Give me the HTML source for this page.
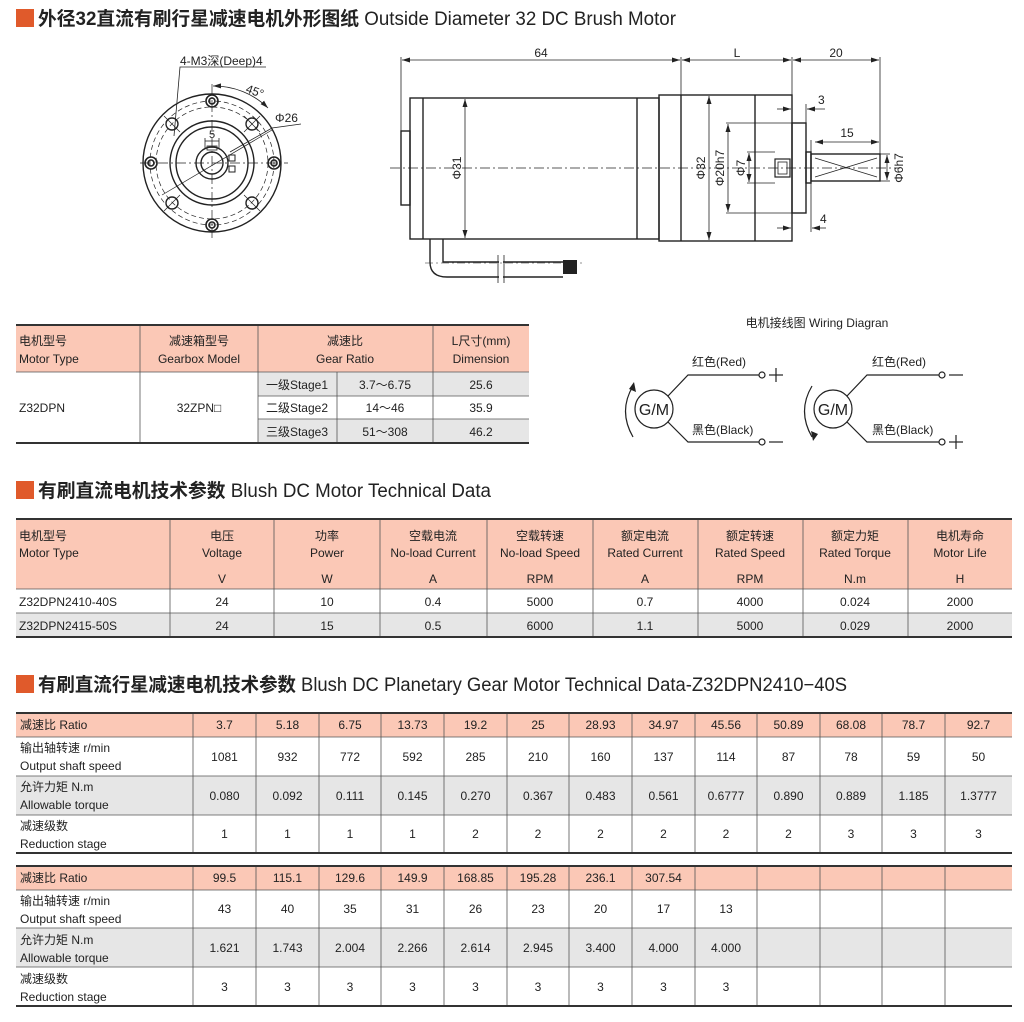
<!DOCTYPE html>
<html><head><meta charset="utf-8"><style>
html,body{margin:0;padding:0;background:#fff;}
svg{display:block;font-family:"Liberation Sans","Noto Sans CJK SC",sans-serif;}
</style></head><body>
<svg width="1024" height="1022" viewBox="0 0 1024 1022" xmlns="http://www.w3.org/2000/svg">
<defs>
<marker id="ar" markerWidth="8" markerHeight="6" refX="8" refY="3" orient="auto-start-reverse" markerUnits="userSpaceOnUse"><path d="M0,0.5 L8,3 L0,5.5 z" fill="#222"/></marker>
</defs>
<!-- Titles -->
<rect x="16" y="9" width="18" height="18" fill="#e05a2b"/>
<text x="38" y="25" font-size="19" font-weight="bold" fill="#222" textLength="638" lengthAdjust="spacingAndGlyphs">外径32直流有刷行星减速电机外形图纸 <tspan font-weight="normal">Outside Diameter 32 DC Brush Motor</tspan></text>
<rect x="16" y="481" width="18" height="18" fill="#e05a2b"/>
<text x="38" y="497" font-size="19" font-weight="bold" fill="#222" textLength="453" lengthAdjust="spacingAndGlyphs">有刷直流电机技术参数 <tspan font-weight="normal">Blush DC Motor Technical Data</tspan></text>
<rect x="16" y="675" width="18" height="18" fill="#e05a2b"/>
<text x="38" y="691" font-size="19" font-weight="bold" fill="#222" textLength="809" lengthAdjust="spacingAndGlyphs">有刷直流行星减速电机技术参数 <tspan font-weight="normal">Blush DC Planetary Gear Motor Technical Data-Z32DPN2410−40S</tspan></text>

<!-- Front view -->
<g stroke="#222" fill="none" stroke-width="1.4">
<line x1="140" y1="163" x2="288" y2="163" stroke-width="0.7" stroke-dasharray="10,3,2,3"/>
<line x1="212" y1="84" x2="212" y2="240" stroke-width="0.7" stroke-dasharray="10,3,2,3"/>
<circle cx="212" cy="163" r="69"/>
<circle cx="212" cy="163" r="62" stroke-width="0.7" stroke-dasharray="5,3"/>
<circle cx="212" cy="163" r="56" stroke-width="0.7" stroke-dasharray="5,3"/>
<circle cx="212" cy="163" r="42"/>
<circle cx="212" cy="163" r="36"/>
<circle cx="212" cy="163" r="16"/>
<circle cx="212" cy="163" r="11"/>
<rect x="207" y="146" width="10" height="4" stroke-width="0.8"/>
<rect x="229" y="155" width="6" height="6" stroke-width="1"/>
<rect x="229" y="166" width="6" height="6" stroke-width="1"/>
<g stroke-width="1.6">
<circle cx="212" cy="101" r="6"/><circle cx="212" cy="101" r="3"/>
<circle cx="212" cy="225" r="6"/><circle cx="212" cy="225" r="3"/>
<circle cx="151" cy="163" r="6"/><circle cx="151" cy="163" r="3"/>
<circle cx="274" cy="163" r="6"/><circle cx="274" cy="163" r="3"/>
</g>
<circle cx="172" cy="124" r="6"/><circle cx="252" cy="124" r="6"/>
<circle cx="172" cy="203" r="6"/><circle cx="252" cy="203" r="6"/>
<line x1="164" y1="116" x2="180" y2="132" stroke-width="0.7"/>
<line x1="244" y1="132" x2="260" y2="116" stroke-width="0.7"/>
<line x1="244" y1="116" x2="260" y2="132" stroke-width="0.7"/>
<line x1="164" y1="211" x2="180" y2="195" stroke-width="0.7"/>
<line x1="244" y1="195" x2="260" y2="211" stroke-width="0.7"/>
<line x1="162" y1="195" x2="272" y2="130" stroke-width="0.7"/>
</g>
<g stroke="#222" stroke-width="0.8" fill="none">
<polyline points="266,67 180,67 174,136"/>
<path d="M213,86 A77,77 0 0 1 268,108" marker-start="url(#ar)" marker-end="url(#ar)"/>
<polyline points="230,152 272,128 301,124"/>
<line x1="205" y1="138" x2="205" y2="149"/><line x1="219" y1="138" x2="219" y2="149"/>
<line x1="205" y1="141" x2="219" y2="141"/>
</g>
<text x="180" y="65" font-size="12" fill="#222">4-M3深(Deep)4</text>
<text x="245" y="92" font-size="12" fill="#222" transform="rotate(20 245 92)">45°</text>
<text x="275" y="122" font-size="12" fill="#222">Φ26</text>
<text x="212" y="138" font-size="11" fill="#222" text-anchor="middle">5</text>

<!-- Side view -->
<g stroke="#222" fill="none" stroke-width="1.4">
<rect x="410" y="98" width="249" height="141"/>
<line x1="423" y1="98" x2="423" y2="239"/>
<line x1="637" y1="98" x2="637" y2="239"/>
<rect x="401" y="131" width="9" height="74"/>
<rect x="659" y="95" width="133" height="146"/>
<line x1="681" y1="95" x2="681" y2="241"/>
<line x1="755" y1="95" x2="755" y2="241"/>
<rect x="792" y="123" width="14" height="90"/>
<rect x="806" y="152" width="5" height="31"/>
<rect x="811" y="154" width="69" height="27"/>
<line x1="815" y1="158" x2="877" y2="177" stroke-width="0.7"/>
<line x1="815" y1="177" x2="877" y2="158" stroke-width="0.7"/>
<rect x="775" y="159" width="15" height="18" stroke-width="1.2"/>
<rect x="778" y="162" width="9" height="12" stroke-width="0.8"/>
<path d="M430,239 V262 Q430,277 447,277 H563"/>
<path d="M443,239 V262 H563"/>
<rect x="563" y="260" width="14" height="14" fill="#222" stroke="none"/>
</g>
<g stroke="#fff" stroke-width="4"><line x1="501" y1="255" x2="501" y2="283"/></g>
<g stroke="#222" stroke-width="0.8"><line x1="498" y1="255" x2="498" y2="283"/><line x1="504" y1="255" x2="504" y2="283"/></g>
<line x1="390" y1="168" x2="900" y2="168" stroke="#222" stroke-width="0.7" stroke-dasharray="10,3,2,3"/>
<line x1="425" y1="263" x2="585" y2="263" stroke="#222" stroke-width="0.6" stroke-dasharray="8,3,2,3"/>
<g stroke="#222" stroke-width="0.8" fill="none">
<line x1="401" y1="57" x2="401" y2="131"/>
<line x1="681" y1="57" x2="681" y2="95"/>
<line x1="792" y1="57" x2="792" y2="123"/>
<line x1="880" y1="57" x2="880" y2="154"/>
<line x1="402" y1="60" x2="680" y2="60" marker-start="url(#ar)" marker-end="url(#ar)"/>
<line x1="682" y1="60" x2="791" y2="60" marker-start="url(#ar)" marker-end="url(#ar)"/>
<line x1="793" y1="60" x2="879" y2="60" marker-start="url(#ar)" marker-end="url(#ar)"/>
<line x1="465" y1="99" x2="465" y2="238" marker-start="url(#ar)" marker-end="url(#ar)"/>
<line x1="709" y1="96" x2="709" y2="240" marker-start="url(#ar)" marker-end="url(#ar)"/>
<line x1="728" y1="124" x2="728" y2="212" marker-start="url(#ar)" marker-end="url(#ar)"/>
<line x1="726" y1="123" x2="792" y2="123"/><line x1="726" y1="213" x2="792" y2="213"/>
<line x1="749" y1="153" x2="749" y2="182" marker-start="url(#ar)" marker-end="url(#ar)"/>
<line x1="747" y1="152" x2="775" y2="152"/><line x1="747" y1="183" x2="775" y2="183"/>
<line x1="887" y1="155" x2="887" y2="180" marker-start="url(#ar)" marker-end="url(#ar)"/>
<line x1="880" y1="154" x2="890" y2="154"/><line x1="880" y1="181" x2="890" y2="181"/>
<line x1="815" y1="142" x2="879" y2="142" marker-start="url(#ar)" marker-end="url(#ar)"/>
<line x1="811" y1="140" x2="811" y2="152"/>
<line x1="777" y1="109" x2="791" y2="109" marker-end="url(#ar)"/>
<line x1="807" y1="109" x2="825" y2="109" marker-start="url(#ar)"/>
<line x1="806" y1="104" x2="806" y2="123"/>
<line x1="777" y1="228" x2="791" y2="228" marker-end="url(#ar)"/>
<line x1="812" y1="228" x2="826" y2="228" marker-start="url(#ar)"/>
<line x1="811" y1="183" x2="811" y2="232"/>
</g>
<g font-size="12" fill="#222">
<text x="541" y="57" text-anchor="middle">64</text>
<text x="737" y="57" text-anchor="middle">L</text>
<text x="836" y="57" text-anchor="middle">20</text>
<text x="847" y="137" text-anchor="middle">15</text>
<text x="818" y="104">3</text>
<text x="820" y="223">4</text>
<text transform="translate(461 168) rotate(-90)" text-anchor="middle">Φ31</text>
<text transform="translate(705 168) rotate(-90)" text-anchor="middle">Φ32</text>
<text transform="translate(724 168) rotate(-90)" text-anchor="middle">Φ20h7</text>
<text transform="translate(745 168) rotate(-90)" text-anchor="middle">Φ7</text>
<text transform="translate(903 168) rotate(-90)" text-anchor="middle">Φ6h7</text>
</g>

<!-- Gearbox table -->
<rect x="16" y="325" width="513" height="47" fill="#fbc8b6"/>
<rect x="258" y="372" width="271" height="24" fill="#e6e6e6"/>
<rect x="258" y="419" width="271" height="24" fill="#e6e6e6"/>
<g stroke="#555" stroke-width="0.8">
<line x1="140" y1="325" x2="140" y2="443"/><line x1="258" y1="325" x2="258" y2="443"/>
<line x1="337" y1="372" x2="337" y2="443"/><line x1="433" y1="325" x2="433" y2="443"/>
<line x1="16" y1="372" x2="529" y2="372"/>
<line x1="258" y1="396" x2="529" y2="396"/><line x1="258" y1="419" x2="529" y2="419"/>
</g>
<line x1="16" y1="325" x2="529" y2="325" stroke="#333" stroke-width="2"/>
<line x1="16" y1="443" x2="529" y2="443" stroke="#333" stroke-width="2"/>
<g font-size="12" fill="#222">
<text x="19" y="345">电机型号</text><text x="19" y="363">Motor Type</text>
<text x="199" y="345" text-anchor="middle">减速箱型号</text><text x="199" y="363" text-anchor="middle">Gearbox Model</text>
<text x="345" y="345" text-anchor="middle">减速比</text><text x="345" y="363" text-anchor="middle">Gear Ratio</text>
<text x="481" y="345" text-anchor="middle">L尺寸(mm)</text><text x="481" y="363" text-anchor="middle">Dimension</text>
<text x="19" y="412">Z32DPN</text>
<text x="199" y="412" text-anchor="middle">32ZPN□</text>
<text x="297" y="389" text-anchor="middle">一级Stage1</text><text x="385" y="389" text-anchor="middle">3.7～6.75</text><text x="481" y="389" text-anchor="middle">25.6</text>
<text x="297" y="412" text-anchor="middle">二级Stage2</text><text x="385" y="412" text-anchor="middle">14～46</text><text x="481" y="412" text-anchor="middle">35.9</text>
<text x="297" y="436" text-anchor="middle">三级Stage3</text><text x="385" y="436" text-anchor="middle">51～308</text><text x="481" y="436" text-anchor="middle">46.2</text>
</g>

<!-- Wiring -->
<text x="817" y="327" font-size="12" fill="#222" text-anchor="middle">电机接线图 Wiring Diagran</text>
<g stroke="#222" stroke-width="1.2" fill="none">
<circle cx="654" cy="409" r="19"/>
<polyline points="668,396 688,375 759,375"/><circle cx="762" cy="375" r="3"/>
<polyline points="668,422 688,442 759,442"/><circle cx="762" cy="442" r="3"/>
<path d="M633,437 Q618,411 633,386"/>
<circle cx="833" cy="409" r="19"/>
<polyline points="847,396 867,375 939,375"/><circle cx="942" cy="375" r="3"/>
<polyline points="847,422 867,442 939,442"/><circle cx="942" cy="442" r="3"/>
<path d="M812,386 Q797,411 812,437"/>
<line x1="769" y1="375" x2="783" y2="375"/><line x1="776" y1="368" x2="776" y2="382"/>
<line x1="769" y1="442" x2="783" y2="442"/>
<line x1="949" y1="375" x2="963" y2="375"/>
<line x1="949" y1="442" x2="963" y2="442"/><line x1="956" y1="435" x2="956" y2="449"/>
</g>
<path d="M634,382 L636,392 L629,389 z" fill="#222"/>
<path d="M813,441 L811,431 L818,434 z" fill="#222"/>
<g font-size="12" fill="#222">
<text x="654" y="415" text-anchor="middle" font-size="16">G/M</text>
<text x="833" y="415" text-anchor="middle" font-size="16">G/M</text>
<text x="692" y="366">红色(Red)</text><text x="692" y="434">黑色(Black)</text>
<text x="872" y="366">红色(Red)</text><text x="872" y="434">黑色(Black)</text>
</g>

<!-- Motor table -->
<rect x="16" y="519" width="996" height="70" fill="#fbc8b6"/>
<rect x="16" y="613" width="996" height="24" fill="#e6e6e6"/>
<g stroke="#555" stroke-width="0.8">
<line x1="170" y1="519" x2="170" y2="637"/><line x1="274" y1="519" x2="274" y2="637"/>
<line x1="380" y1="519" x2="380" y2="637"/><line x1="487" y1="519" x2="487" y2="637"/>
<line x1="593" y1="519" x2="593" y2="637"/><line x1="698" y1="519" x2="698" y2="637"/>
<line x1="803" y1="519" x2="803" y2="637"/><line x1="908" y1="519" x2="908" y2="637"/>
<line x1="16" y1="589" x2="1012" y2="589"/><line x1="16" y1="613" x2="1012" y2="613"/>
</g>
<line x1="16" y1="519" x2="1012" y2="519" stroke="#333" stroke-width="2"/>
<line x1="16" y1="637" x2="1012" y2="637" stroke="#333" stroke-width="2"/>
<g font-size="12" fill="#222" text-anchor="middle">
<text x="19" y="540" text-anchor="start">电机型号</text><text x="19" y="557" text-anchor="start">Motor Type</text>
<text x="222" y="540">电压</text><text x="222" y="557">Voltage</text><text x="222" y="583">V</text>
<text x="327" y="540">功率</text><text x="327" y="557">Power</text><text x="327" y="583">W</text>
<text x="433" y="540">空载电流</text><text x="433" y="557">No-load Current</text><text x="433" y="583">A</text>
<text x="540" y="540">空载转速</text><text x="540" y="557">No-load Speed</text><text x="540" y="583">RPM</text>
<text x="645" y="540">额定电流</text><text x="645" y="557">Rated Current</text><text x="645" y="583">A</text>
<text x="750" y="540">额定转速</text><text x="750" y="557">Rated Speed</text><text x="750" y="583">RPM</text>
<text x="855" y="540">额定力矩</text><text x="855" y="557">Rated Torque</text><text x="855" y="583">N.m</text>
<text x="960" y="540">电机寿命</text><text x="960" y="557">Motor Life</text><text x="960" y="583">H</text>
<text x="19" y="606" text-anchor="start">Z32DPN2410-40S</text>
<text x="222" y="606">24</text><text x="327" y="606">10</text><text x="433" y="606">0.4</text><text x="540" y="606">5000</text><text x="645" y="606">0.7</text><text x="750" y="606">4000</text><text x="855" y="606">0.024</text><text x="960" y="606">2000</text>
<text x="19" y="630" text-anchor="start">Z32DPN2415-50S</text>
<text x="222" y="630">24</text><text x="327" y="630">15</text><text x="433" y="630">0.5</text><text x="540" y="630">6000</text><text x="645" y="630">1.1</text><text x="750" y="630">5000</text><text x="855" y="630">0.029</text><text x="960" y="630">2000</text>
</g>

<!-- Gear tables -->
<rect x="16" y="713" width="996" height="24" fill="#fbc8b6"/>
<rect x="16" y="776" width="996" height="39" fill="#e6e6e6"/>
<rect x="16" y="866" width="996" height="24" fill="#fbc8b6"/>
<rect x="16" y="928" width="996" height="39" fill="#e6e6e6"/>
<g stroke="#555" stroke-width="0.8">
<path d="M193,713V853M256,713V853M319,713V853M381,713V853M444,713V853M507,713V853M569,713V853M632,713V853M695,713V853M757,713V853M820,713V853M882,713V853M945,713V853"/>
<path d="M16,737H1012M16,776H1012M16,815H1012"/>
<path d="M193,866V1006M256,866V1006M319,866V1006M381,866V1006M444,866V1006M507,866V1006M569,866V1006M632,866V1006M695,866V1006M757,866V1006M820,866V1006M882,866V1006M945,866V1006"/>
<path d="M16,890H1012M16,928H1012M16,967H1012"/>
</g>
<g stroke="#333" stroke-width="2">
<line x1="16" y1="713" x2="1012" y2="713"/><line x1="16" y1="853" x2="1012" y2="853"/>
<line x1="16" y1="866" x2="1012" y2="866"/><line x1="16" y1="1006" x2="1012" y2="1006"/>
</g>
<g font-size="12" fill="#222">
<text x="20" y="729">减速比 Ratio</text>
<text x="20" y="752">输出轴转速 r/min</text><text x="20" y="770">Output shaft speed</text>
<text x="20" y="791">允许力矩 N.m</text><text x="20" y="809">Allowable torque</text>
<text x="20" y="830">减速级数</text><text x="20" y="848">Reduction stage</text>
<text x="20" y="882">减速比 Ratio</text>
<text x="20" y="905">输出轴转速 r/min</text><text x="20" y="923">Output shaft speed</text>
<text x="20" y="944">允许力矩 N.m</text><text x="20" y="962">Allowable torque</text>
<text x="20" y="983">减速级数</text><text x="20" y="1001">Reduction stage</text>
</g>
<g font-size="12" fill="#222" text-anchor="middle">
<text y="729"><tspan x="224.5">3.7</tspan><tspan x="287.5">5.18</tspan><tspan x="350">6.75</tspan><tspan x="412.5">13.73</tspan><tspan x="475.5">19.2</tspan><tspan x="538">25</tspan><tspan x="600.5">28.93</tspan><tspan x="663.5">34.97</tspan><tspan x="726">45.56</tspan><tspan x="788.5">50.89</tspan><tspan x="851">68.08</tspan><tspan x="913.5">78.7</tspan><tspan x="978.5">92.7</tspan></text>
<text y="761"><tspan x="224.5">1081</tspan><tspan x="287.5">932</tspan><tspan x="350">772</tspan><tspan x="412.5">592</tspan><tspan x="475.5">285</tspan><tspan x="538">210</tspan><tspan x="600.5">160</tspan><tspan x="663.5">137</tspan><tspan x="726">114</tspan><tspan x="788.5">87</tspan><tspan x="851">78</tspan><tspan x="913.5">59</tspan><tspan x="978.5">50</tspan></text>
<text y="800"><tspan x="224.5">0.080</tspan><tspan x="287.5">0.092</tspan><tspan x="350">0.111</tspan><tspan x="412.5">0.145</tspan><tspan x="475.5">0.270</tspan><tspan x="538">0.367</tspan><tspan x="600.5">0.483</tspan><tspan x="663.5">0.561</tspan><tspan x="726">0.6777</tspan><tspan x="788.5">0.890</tspan><tspan x="851">0.889</tspan><tspan x="913.5">1.185</tspan><tspan x="978.5">1.3777</tspan></text>
<text y="838"><tspan x="224.5">1</tspan><tspan x="287.5">1</tspan><tspan x="350">1</tspan><tspan x="412.5">1</tspan><tspan x="475.5">2</tspan><tspan x="538">2</tspan><tspan x="600.5">2</tspan><tspan x="663.5">2</tspan><tspan x="726">2</tspan><tspan x="788.5">2</tspan><tspan x="851">3</tspan><tspan x="913.5">3</tspan><tspan x="978.5">3</tspan></text>
<text y="882"><tspan x="224.5">99.5</tspan><tspan x="287.5">115.1</tspan><tspan x="350">129.6</tspan><tspan x="412.5">149.9</tspan><tspan x="475.5">168.85</tspan><tspan x="538">195.28</tspan><tspan x="600.5">236.1</tspan><tspan x="663.5">307.54</tspan></text>
<text y="913"><tspan x="224.5">43</tspan><tspan x="287.5">40</tspan><tspan x="350">35</tspan><tspan x="412.5">31</tspan><tspan x="475.5">26</tspan><tspan x="538">23</tspan><tspan x="600.5">20</tspan><tspan x="663.5">17</tspan><tspan x="726">13</tspan></text>
<text y="952"><tspan x="224.5">1.621</tspan><tspan x="287.5">1.743</tspan><tspan x="350">2.004</tspan><tspan x="412.5">2.266</tspan><tspan x="475.5">2.614</tspan><tspan x="538">2.945</tspan><tspan x="600.5">3.400</tspan><tspan x="663.5">4.000</tspan><tspan x="726">4.000</tspan></text>
<text y="991"><tspan x="224.5">3</tspan><tspan x="287.5">3</tspan><tspan x="350">3</tspan><tspan x="412.5">3</tspan><tspan x="475.5">3</tspan><tspan x="538">3</tspan><tspan x="600.5">3</tspan><tspan x="663.5">3</tspan><tspan x="726">3</tspan></text>
</g>
</svg>
</body></html>
